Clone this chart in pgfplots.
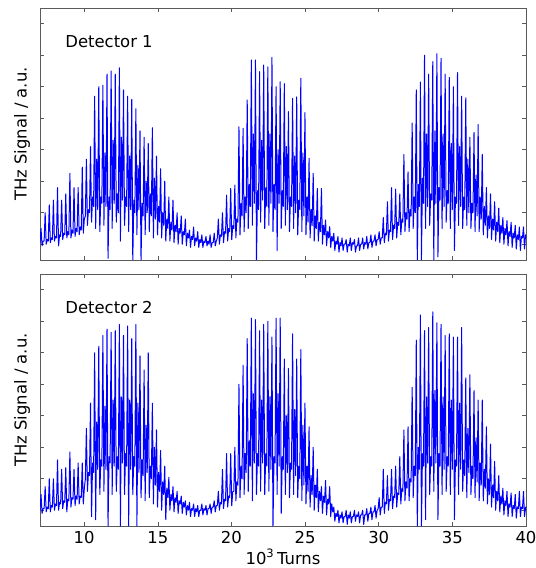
\documentclass[border=0pt]{standalone}
\usepackage{fontspec}
\setmainfont{DejaVu Sans}
\usepackage{pgfplots}
\usepackage{pgfplotstable}
\pgfplotsset{compat=1.18}

% Detector 1 (x in 10^3 turns, y in a.u.)
\pgfplotstableread[row sep=\\]{
x y\\
7.00 0.55\\ 7.07 1.0\\ 7.14 0.45\\ 7.21 0.6\\
7.28 0.6\\ 7.35 1.5\\ 7.42 0.5\\ 7.49 0.65\\
7.56 0.6\\ 7.63 1.75\\ 7.70 0.55\\ 7.77 0.7\\
7.84 0.65\\ 7.91 1.9\\ 7.98 0.6\\ 8.05 0.75\\
8.12 0.7\\ 8.19 2.3\\ 8.26 0.45\\ 8.33 0.8\\
8.40 0.75\\ 8.47 1.9\\ 8.54 0.65\\ 8.61 0.85\\
8.68 0.8\\ 8.75 2.1\\ 8.82 0.7\\ 8.89 0.9\\
8.96 0.8\\ 9.03 2.75\\ 9.10 0.7\\ 9.17 0.95\\
9.24 0.85\\ 9.31 2.3\\ 9.38 0.75\\ 9.45 1.0\\
9.52 0.9\\ 9.59 2.3\\ 9.66 0.8\\ 9.73 1.05\\
9.80 0.95\\ 9.87 2.95\\ 9.94 0.85\\ 10.01 1.3\\
10.08 1.4\\ 10.15 3.2\\ 10.22 1.1\\ 10.29 1.6\\
10.36 1.5\\ 10.43 3.6\\ 10.50 1.2\\ 10.57 2.0\\
10.64 1.7\\ 10.71 5.2\\ 10.78 1.0\\ 10.85 3.2\\
10.92 1.6\\ 10.99 5.5\\ 11.06 0.9\\ 11.13 2.0\\
11.20 1.8\\ 11.27 5.55\\ 11.34 1.1\\ 11.41 3.4\\
11.48 1.7\\ 11.55 5.9\\ 11.62 0.05\\ 11.69 2.0\\
11.76 1.6\\ 11.83 6.0\\ 11.90 1.0\\ 11.97 3.8\\
12.04 1.8\\ 12.11 5.9\\ 12.18 1.2\\ 12.25 2.1\\
12.32 1.5\\ 12.39 6.1\\ 12.46 0.6\\ 12.53 3.9\\
12.60 1.9\\ 12.67 5.4\\ 12.74 1.1\\ 12.81 2.0\\
12.88 1.7\\ 12.95 5.2\\ 13.02 0.9\\ 13.09 3.3\\
13.16 1.6\\ 13.23 5.1\\ 13.30 0.0\\ 13.37 1.9\\
13.44 1.5\\ 13.51 4.8\\ 13.58 0.8\\ 13.65 3.0\\
13.72 1.6\\ 13.79 4.1\\ 13.86 0.0\\ 13.93 1.8\\
14.00 1.4\\ 14.07 3.9\\ 14.14 0.8\\ 14.21 2.5\\
14.28 1.5\\ 14.35 3.7\\ 14.42 0.9\\ 14.49 2.1\\
14.56 1.4\\ 14.63 4.2\\ 14.70 0.7\\ 14.77 2.6\\
14.84 1.3\\ 14.91 3.3\\ 14.98 0.8\\ 15.05 1.7\\
15.12 1.2\\ 15.19 2.9\\ 15.26 0.7\\ 15.33 1.5\\
15.40 1.1\\ 15.47 2.5\\ 15.54 0.6\\ 15.61 1.3\\
15.68 1.0\\ 15.75 2.0\\ 15.82 0.6\\ 15.89 1.2\\
15.96 0.95\\ 16.03 1.9\\ 16.10 0.55\\ 16.17 1.1\\
16.24 0.9\\ 16.31 1.5\\ 16.38 0.5\\ 16.45 1.0\\
16.52 0.85\\ 16.59 1.4\\ 16.66 0.5\\ 16.73 0.9\\
16.80 0.8\\ 16.87 1.3\\ 16.94 0.45\\ 17.01 0.85\\
17.08 0.7\\ 17.15 0.95\\ 17.22 0.4\\ 17.29 0.75\\
17.36 0.65\\ 17.43 1.05\\ 17.50 0.45\\ 17.57 0.7\\
17.64 0.6\\ 17.71 0.9\\ 17.78 0.4\\ 17.85 0.65\\
17.92 0.55\\ 17.99 0.8\\ 18.06 0.4\\ 18.13 0.6\\
18.20 0.55\\ 18.27 0.75\\ 18.34 0.45\\ 18.41 0.6\\
18.48 0.5\\ 18.55 0.8\\ 18.62 0.4\\ 18.69 0.55\\
18.76 0.55\\ 18.83 0.85\\ 18.90 0.45\\ 18.97 0.6\\
19.04 0.7\\ 19.11 1.3\\ 19.18 0.5\\ 19.25 0.8\\
19.32 0.75\\ 19.39 1.5\\ 19.46 0.55\\ 19.53 0.9\\
19.60 0.85\\ 19.67 2.06\\ 19.74 0.6\\ 19.81 1.0\\
19.88 0.9\\ 19.95 2.27\\ 20.02 0.65\\ 20.09 1.1\\
20.16 1.0\\ 20.23 2.38\\ 20.30 0.7\\ 20.37 1.3\\
20.44 1.2\\ 20.51 4.23\\ 20.58 0.8\\ 20.65 1.8\\
20.72 1.4\\ 20.79 4.18\\ 20.86 0.9\\ 20.93 2.0\\
21.00 1.5\\ 21.07 5.08\\ 21.14 1.0\\ 21.21 2.4\\
21.28 1.7\\ 21.35 6.35\\ 21.42 1.1\\ 21.49 4.0\\
21.56 1.8\\ 21.63 6.35\\ 21.70 0.0\\ 21.77 2.2\\
21.84 1.6\\ 21.91 5.98\\ 21.98 1.2\\ 22.05 3.8\\
22.12 1.9\\ 22.19 6.19\\ 22.26 1.0\\ 22.33 2.3\\
22.40 1.7\\ 22.47 6.13\\ 22.54 1.1\\ 22.61 4.0\\
22.68 1.8\\ 22.75 6.43\\ 22.82 0.9\\ 22.89 2.4\\
22.96 1.6\\ 23.03 5.5\\ 23.10 0.3\\ 23.17 3.5\\
23.24 1.8\\ 23.31 5.66\\ 23.38 1.0\\ 23.45 2.2\\
23.52 1.7\\ 23.59 5.6\\ 23.66 1.1\\ 23.73 3.6\\
23.80 1.6\\ 23.87 4.71\\ 23.94 0.9\\ 24.01 2.0\\
24.08 1.7\\ 24.15 5.13\\ 24.22 1.0\\ 24.29 3.3\\
24.36 1.5\\ 24.43 5.18\\ 24.50 0.8\\ 24.57 1.9\\
24.64 1.6\\ 24.71 5.77\\ 24.78 0.9\\ 24.85 3.4\\
24.92 1.4\\ 24.99 4.68\\ 25.06 0.8\\ 25.13 2.0\\
25.20 1.2\\ 25.27 3.23\\ 25.34 0.7\\ 25.41 1.6\\
25.48 1.1\\ 25.55 2.75\\ 25.62 0.6\\ 25.69 1.4\\
25.76 1.0\\ 25.83 2.27\\ 25.90 0.6\\ 25.97 1.2\\
26.04 0.9\\ 26.11 2.27\\ 26.18 0.5\\ 26.25 1.1\\
26.32 0.8\\ 26.39 1.27\\ 26.46 0.45\\ 26.53 0.9\\
26.60 0.7\\ 26.67 1.06\\ 26.74 0.4\\ 26.81 0.75\\
26.88 0.6\\ 26.95 0.85\\ 27.02 0.3\\ 27.09 0.6\\
27.16 0.5\\ 27.23 0.75\\ 27.30 0.25\\ 27.37 0.55\\
27.44 0.45\\ 27.51 0.7\\ 27.58 0.3\\ 27.65 0.5\\
27.72 0.5\\ 27.79 0.65\\ 27.86 0.25\\ 27.93 0.5\\
28.00 0.45\\ 28.07 0.7\\ 28.14 0.3\\ 28.21 0.55\\
28.28 0.5\\ 28.35 0.65\\ 28.42 0.25\\ 28.49 0.45\\
28.56 0.45\\ 28.63 0.7\\ 28.70 0.3\\ 28.77 0.5\\
28.84 0.5\\ 28.91 0.7\\ 28.98 0.35\\ 29.05 0.55\\
29.12 0.5\\ 29.19 0.75\\ 29.26 0.35\\ 29.33 0.55\\
29.40 0.55\\ 29.47 0.8\\ 29.54 0.4\\ 29.61 0.6\\
29.68 0.6\\ 29.75 0.8\\ 29.82 0.45\\ 29.89 0.65\\
29.96 0.65\\ 30.03 0.9\\ 30.10 0.5\\ 30.17 0.7\\
30.24 0.7\\ 30.31 1.35\\ 30.38 0.55\\ 30.45 0.85\\
30.52 0.8\\ 30.59 1.85\\ 30.66 0.6\\ 30.73 0.95\\
30.80 0.9\\ 30.87 2.3\\ 30.94 0.65\\ 31.01 1.1\\
31.08 1.0\\ 31.15 2.25\\ 31.22 0.7\\ 31.29 1.2\\
31.36 1.1\\ 31.43 2.1\\ 31.50 0.8\\ 31.57 1.3\\
31.64 1.2\\ 31.71 3.35\\ 31.78 0.9\\ 31.85 1.5\\
31.92 1.3\\ 31.99 2.8\\ 32.06 0.9\\ 32.13 1.6\\
32.20 1.4\\ 32.27 4.35\\ 32.34 1.0\\ 32.41 2.0\\
32.48 1.5\\ 32.55 5.4\\ 32.62 0.0\\ 32.69 2.4\\
32.76 1.7\\ 32.83 5.65\\ 32.90 0.0\\ 32.97 2.6\\
33.04 1.8\\ 33.11 6.5\\ 33.18 1.0\\ 33.25 4.0\\
33.32 1.7\\ 33.39 5.9\\ 33.46 1.1\\ 33.53 2.1\\
33.60 1.9\\ 33.67 6.3\\ 33.74 0.0\\ 33.81 4.1\\
33.88 1.8\\ 33.95 6.55\\ 34.02 0.1\\ 34.09 2.3\\
34.16 1.9\\ 34.23 6.4\\ 34.30 1.0\\ 34.37 4.0\\
34.44 1.7\\ 34.51 5.9\\ 34.58 1.2\\ 34.65 2.2\\
34.72 1.8\\ 34.79 5.8\\ 34.86 1.0\\ 34.93 3.7\\
35.00 1.6\\ 35.07 5.5\\ 35.14 0.3\\ 35.21 2.0\\
35.28 1.8\\ 35.35 5.95\\ 35.42 1.1\\ 35.49 3.6\\
35.56 1.7\\ 35.63 5.2\\ 35.70 1.0\\ 35.77 2.0\\
35.84 1.6\\ 35.91 5.15\\ 35.98 1.1\\ 36.05 3.2\\
36.12 1.5\\ 36.19 3.9\\ 36.26 1.0\\ 36.33 1.8\\
36.40 1.5\\ 36.47 4.05\\ 36.54 0.9\\ 36.61 2.7\\
36.68 1.4\\ 36.75 4.3\\ 36.82 0.9\\ 36.89 2.0\\
36.96 1.3\\ 37.03 3.35\\ 37.10 0.8\\ 37.17 1.7\\
37.24 1.1\\ 37.31 2.3\\ 37.38 0.7\\ 37.45 1.4\\
37.52 1.0\\ 37.59 2.1\\ 37.66 0.65\\ 37.73 1.3\\
37.80 0.95\\ 37.87 1.85\\ 37.94 0.6\\ 38.01 1.2\\
38.08 0.9\\ 38.15 1.65\\ 38.22 0.55\\ 38.29 1.1\\
38.36 0.85\\ 38.43 1.35\\ 38.50 0.5\\ 38.57 1.0\\
38.64 0.8\\ 38.71 1.25\\ 38.78 0.45\\ 38.85 0.9\\
38.92 0.75\\ 38.99 1.2\\ 39.06 0.4\\ 39.13 0.85\\
39.20 0.7\\ 39.27 1.1\\ 39.34 0.35\\ 39.41 0.8\\
39.48 0.65\\ 39.55 1.05\\ 39.62 0.3\\ 39.69 0.75\\
39.76 0.7\\ 39.83 1.05\\ 39.90 0.35\\ 39.97 0.8\\
40.04 0.7\\
}\detA

% Detector 2
\pgfplotstableread[row sep=\\]{
x y\\
7.00 0.5\\ 7.07 1.0\\ 7.14 0.4\\ 7.21 0.55\\
7.28 0.55\\ 7.35 1.25\\ 7.42 0.45\\ 7.49 0.6\\
7.56 0.55\\ 7.63 1.5\\ 7.70 0.45\\ 7.77 0.65\\
7.84 0.6\\ 7.91 1.5\\ 7.98 0.5\\ 8.05 0.7\\
8.12 0.65\\ 8.19 2.1\\ 8.26 0.5\\ 8.33 0.75\\
8.40 0.7\\ 8.47 1.8\\ 8.54 0.55\\ 8.61 0.8\\
8.68 0.75\\ 8.75 1.85\\ 8.82 0.45\\ 8.89 0.85\\
8.96 0.8\\ 9.03 2.35\\ 9.10 0.6\\ 9.17 0.9\\
9.24 0.85\\ 9.31 1.8\\ 9.38 0.65\\ 9.45 0.95\\
9.52 0.85\\ 9.59 2.0\\ 9.66 0.7\\ 9.73 0.95\\
9.80 0.9\\ 9.87 2.0\\ 9.94 0.7\\ 10.01 1.2\\
10.08 1.5\\ 10.15 3.1\\ 10.22 1.1\\ 10.29 1.7\\
10.36 1.6\\ 10.43 3.9\\ 10.50 0.3\\ 10.57 2.0\\
10.64 1.7\\ 10.71 5.5\\ 10.78 0.2\\ 10.85 3.3\\
10.92 1.8\\ 10.99 5.7\\ 11.06 1.0\\ 11.13 2.1\\
11.20 1.9\\ 11.27 6.05\\ 11.34 1.1\\ 11.41 3.8\\
11.48 1.8\\ 11.55 6.25\\ 11.62 0.0\\ 11.69 2.2\\
11.76 2.0\\ 11.83 6.15\\ 11.90 1.0\\ 11.97 4.0\\
12.04 1.9\\ 12.11 6.2\\ 12.18 1.1\\ 12.25 2.2\\
12.32 1.8\\ 12.39 6.4\\ 12.46 0.0\\ 12.53 4.1\\
12.60 2.0\\ 12.67 6.05\\ 12.74 1.0\\ 12.81 2.3\\
12.88 1.9\\ 12.95 6.35\\ 13.02 0.0\\ 13.09 4.0\\
13.16 1.8\\ 13.23 5.95\\ 13.30 1.0\\ 13.37 2.2\\
13.44 1.9\\ 13.51 6.4\\ 13.58 0.0\\ 13.65 3.9\\
13.72 1.7\\ 13.79 5.4\\ 13.86 0.9\\ 13.93 2.1\\
14.00 1.6\\ 14.07 4.95\\ 14.14 0.8\\ 14.21 3.2\\
14.28 1.7\\ 14.35 5.5\\ 14.42 0.9\\ 14.49 1.9\\
14.56 1.5\\ 14.63 3.9\\ 14.70 0.7\\ 14.77 2.5\\
14.84 1.3\\ 14.91 3.05\\ 14.98 0.6\\ 15.05 1.7\\
15.12 1.1\\ 15.19 2.4\\ 15.26 0.5\\ 15.33 1.4\\
15.40 1.0\\ 15.47 1.9\\ 15.54 0.2\\ 15.61 1.2\\
15.68 0.9\\ 15.75 1.55\\ 15.82 0.5\\ 15.89 1.0\\
15.96 0.8\\ 16.03 1.25\\ 16.10 0.45\\ 16.17 0.9\\
16.24 0.75\\ 16.31 1.1\\ 16.38 0.4\\ 16.45 0.8\\
16.52 0.7\\ 16.59 0.95\\ 16.66 0.4\\ 16.73 0.75\\
16.80 0.6\\ 16.87 0.8\\ 16.94 0.35\\ 17.01 0.65\\
17.08 0.5\\ 17.15 0.75\\ 17.22 0.3\\ 17.29 0.55\\
17.36 0.5\\ 17.43 0.7\\ 17.50 0.3\\ 17.57 0.55\\
17.64 0.45\\ 17.71 0.65\\ 17.78 0.3\\ 17.85 0.5\\
17.92 0.5\\ 17.99 0.7\\ 18.06 0.35\\ 18.13 0.55\\
18.20 0.5\\ 18.27 0.65\\ 18.34 0.35\\ 18.41 0.55\\
18.48 0.55\\ 18.55 0.7\\ 18.62 0.4\\ 18.69 0.6\\
18.76 0.6\\ 18.83 0.8\\ 18.90 0.45\\ 18.97 0.65\\
19.04 0.65\\ 19.11 1.1\\ 19.18 0.5\\ 19.25 0.75\\
19.32 0.7\\ 19.39 1.8\\ 19.46 0.55\\ 19.53 0.85\\
19.60 0.8\\ 19.67 2.3\\ 19.74 0.6\\ 19.81 0.95\\
19.88 0.9\\ 19.95 2.3\\ 20.02 0.65\\ 20.09 1.1\\
20.16 1.1\\ 20.23 2.5\\ 20.30 0.8\\ 20.37 1.4\\
20.44 1.3\\ 20.51 4.5\\ 20.58 0.9\\ 20.65 1.9\\
20.72 1.5\\ 20.79 5.1\\ 20.86 1.0\\ 20.93 2.3\\
21.00 1.7\\ 21.07 5.95\\ 21.14 1.1\\ 21.21 2.7\\
21.28 1.9\\ 21.35 6.6\\ 21.42 0.8\\ 21.49 4.2\\
21.56 2.0\\ 21.63 6.55\\ 21.70 1.0\\ 21.77 2.3\\
21.84 1.9\\ 21.91 6.2\\ 21.98 1.1\\ 22.05 4.0\\
22.12 2.0\\ 22.19 6.4\\ 22.26 1.0\\ 22.33 2.3\\
22.40 1.9\\ 22.47 6.5\\ 22.54 1.1\\ 22.61 4.1\\
22.68 1.8\\ 22.75 6.0\\ 22.82 0.0\\ 22.89 2.2\\
22.96 2.0\\ 23.03 6.6\\ 23.10 1.0\\ 23.17 4.2\\
23.24 1.9\\ 23.31 6.6\\ 23.38 0.4\\ 23.45 2.2\\
23.52 1.8\\ 23.59 5.3\\ 23.66 1.0\\ 23.73 3.5\\
23.80 1.7\\ 23.87 5.0\\ 23.94 0.9\\ 24.01 2.0\\
24.08 1.8\\ 24.15 6.1\\ 24.22 1.0\\ 24.29 3.7\\
24.36 1.6\\ 24.43 5.3\\ 24.50 0.9\\ 24.57 1.9\\
24.64 1.5\\ 24.71 5.6\\ 24.78 0.8\\ 24.85 3.2\\
24.92 1.3\\ 24.99 3.9\\ 25.06 0.7\\ 25.13 1.9\\
25.20 1.1\\ 25.27 3.15\\ 25.34 0.6\\ 25.41 1.6\\
25.48 1.0\\ 25.55 2.5\\ 25.62 0.5\\ 25.69 1.3\\
25.76 0.9\\ 25.83 1.8\\ 25.90 0.45\\ 25.97 1.1\\
26.04 0.8\\ 26.11 1.25\\ 26.18 0.4\\ 26.25 0.95\\
26.32 0.75\\ 26.39 1.45\\ 26.46 0.35\\ 26.53 0.85\\
26.60 0.7\\ 26.67 1.25\\ 26.74 0.3\\ 26.81 0.7\\
26.88 0.45\\ 26.95 0.6\\ 27.02 0.15\\ 27.09 0.4\\
27.16 0.3\\ 27.23 0.5\\ 27.30 0.1\\ 27.37 0.35\\
27.44 0.25\\ 27.51 0.45\\ 27.58 0.1\\ 27.65 0.3\\
27.72 0.3\\ 27.79 0.5\\ 27.86 0.05\\ 27.93 0.35\\
28.00 0.25\\ 28.07 0.45\\ 28.14 0.1\\ 28.21 0.3\\
28.28 0.3\\ 28.35 0.5\\ 28.42 0.15\\ 28.49 0.35\\
28.56 0.3\\ 28.63 0.45\\ 28.70 0.1\\ 28.77 0.35\\
28.84 0.35\\ 28.91 0.5\\ 28.98 0.05\\ 29.05 0.35\\
29.12 0.35\\ 29.19 0.55\\ 29.26 0.15\\ 29.33 0.4\\
29.40 0.4\\ 29.47 0.6\\ 29.54 0.2\\ 29.61 0.45\\
29.68 0.45\\ 29.75 0.65\\ 29.82 0.25\\ 29.89 0.5\\
29.96 0.55\\ 30.03 0.9\\ 30.10 0.35\\ 30.17 0.6\\
30.24 0.6\\ 30.31 1.8\\ 30.38 0.4\\ 30.45 0.75\\
30.52 0.7\\ 30.59 1.6\\ 30.66 0.5\\ 30.73 0.85\\
30.80 0.8\\ 30.87 1.8\\ 30.94 0.55\\ 31.01 0.95\\
31.08 0.9\\ 31.15 1.9\\ 31.22 0.6\\ 31.29 1.05\\
31.36 1.0\\ 31.43 2.2\\ 31.50 0.7\\ 31.57 1.2\\
31.64 1.1\\ 31.71 3.05\\ 31.78 0.8\\ 31.85 1.4\\
31.92 1.2\\ 31.99 3.15\\ 32.06 0.8\\ 32.13 1.5\\
32.20 1.4\\ 32.27 4.4\\ 32.34 0.9\\ 32.41 1.9\\
32.48 1.6\\ 32.55 5.9\\ 32.62 0.0\\ 32.69 2.5\\
32.76 1.8\\ 32.83 6.7\\ 32.90 0.0\\ 32.97 2.3\\
33.04 1.9\\ 33.11 6.2\\ 33.18 0.2\\ 33.25 4.1\\
33.32 2.0\\ 33.39 6.3\\ 33.46 1.0\\ 33.53 2.2\\
33.60 1.9\\ 33.67 6.8\\ 33.74 1.1\\ 33.81 4.3\\
33.88 2.0\\ 33.95 6.45\\ 34.02 0.2\\ 34.09 2.3\\
34.16 1.9\\ 34.23 6.4\\ 34.30 1.0\\ 34.37 4.1\\
34.44 1.8\\ 34.51 6.05\\ 34.58 1.1\\ 34.65 2.2\\
34.72 1.9\\ 34.79 6.1\\ 34.86 1.0\\ 34.93 4.0\\
35.00 1.8\\ 35.07 6.0\\ 35.14 0.2\\ 35.21 2.1\\
35.28 1.9\\ 35.35 6.0\\ 35.42 1.0\\ 35.49 3.9\\
35.56 1.8\\ 35.63 6.3\\ 35.70 1.1\\ 35.77 2.1\\
35.84 1.6\\ 35.91 4.7\\ 35.98 0.9\\ 36.05 3.1\\
36.12 1.7\\ 36.19 4.8\\ 36.26 1.0\\ 36.33 1.9\\
36.40 1.5\\ 36.47 4.3\\ 36.54 0.9\\ 36.61 2.8\\
36.68 1.4\\ 36.75 4.0\\ 36.82 0.8\\ 36.89 2.0\\
36.96 1.3\\ 37.03 4.0\\ 37.10 0.8\\ 37.17 1.8\\
37.24 1.2\\ 37.31 3.15\\ 37.38 0.7\\ 37.45 1.5\\
37.52 1.0\\ 37.59 2.6\\ 37.66 0.6\\ 37.73 1.3\\
37.80 0.9\\ 37.87 2.05\\ 37.94 0.5\\ 38.01 1.1\\
38.08 0.8\\ 38.15 1.6\\ 38.22 0.45\\ 38.29 0.95\\
38.36 0.7\\ 38.43 1.2\\ 38.50 0.35\\ 38.57 0.8\\
38.64 0.65\\ 38.71 1.1\\ 38.78 0.3\\ 38.85 0.7\\
38.92 0.6\\ 38.99 1.05\\ 39.06 0.3\\ 39.13 0.65\\
39.20 0.55\\ 39.27 1.0\\ 39.34 0.25\\ 39.41 0.6\\
39.48 0.55\\ 39.55 1.1\\ 39.62 0.3\\ 39.69 0.6\\
39.76 0.55\\ 39.83 1.1\\ 39.90 0.3\\ 39.97 0.6\\
40.04 0.6\\
}\detB

\definecolor{framegray}{RGB}{90,90,90}

\pgfplotsset{
  thzpanel/.style={
    width=486bp, height=252bp, scale only axis,
    xmin=7, xmax=40, ymin=0, ymax=8,
    xtick={10,15,20,25,30,35,40},
    ytick={0.5,1.5,2.5,3.5,4.5,5.5,6.5,7.5},
    yticklabels={},
    tick align=inside,
    major tick length=4bp,
    axis line style={framegray, line width=0.8bp},
    every tick/.style={framegray, line width=0.6bp},
    /pgf/number format/assume math mode=true,
    tick label style={font=\fontsize{16.5}{19}\selectfont},
    ylabel={THz Signal / a.u.},
    ylabel style={font=\fontsize{16.5}{19}\selectfont,
      at={(axis description cs:-0.037,0.5)}, anchor=center},
  },
  thzline/.style={blue, line width=1.0bp, mark=none, line join=round},
}

\begin{document}
\begin{tikzpicture}
\path[use as bounding box] (-40bp,-42bp) rectangle (496bp,526bp);

\begin{axis}[thzpanel, at={(0,266bp)}, xticklabels={}]
\addplot[thzline] table[x=x, y=y] {\detA};
\node[anchor=base west, font=\fontsize{16.5}{19}\selectfont]
  at (axis description cs:0.045,0.845) {Detector 1};
\end{axis}

\begin{axis}[thzpanel, at={(0,0)},
  xticklabel style={anchor=base, yshift=-17bp},
  xlabel={10\textsuperscript{3}\,Turns},
  xlabel style={font=\fontsize{16.5}{19}\selectfont,
    at={(axis description cs:0.5,0)}, anchor=base, yshift=-38bp}]
\addplot[thzline] table[x=x, y=y] {\detB};
\node[anchor=base west, font=\fontsize{16.5}{19}\selectfont]
  at (axis description cs:0.045,0.845) {Detector 2};
\end{axis}
\end{tikzpicture}
\end{document}
